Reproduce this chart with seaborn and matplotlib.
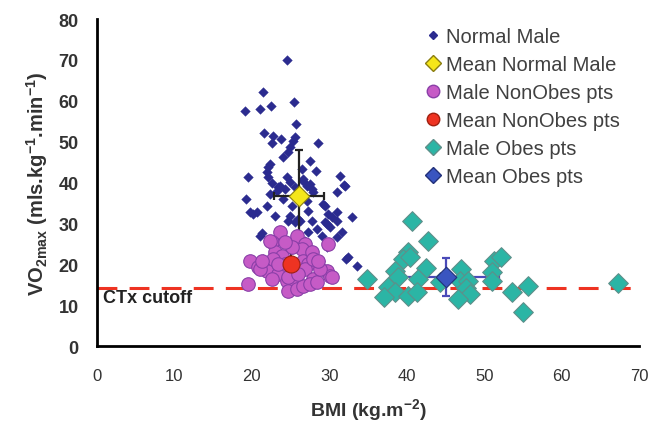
import matplotlib
matplotlib.use("Agg")
import matplotlib.pyplot as plt
from matplotlib.lines import Line2D
import pandas as pd
import seaborn as sns

# Normal male (BMI, VO2max)
normal_bmi = [
    24.5, 21.4, 25.5, 19.1, 21.1, 22.5, 25.7, 21.6, 22.7, 23.8, 25.6, 25.3, 22.6,
    28.6, 24.9, 24.7, 24.0, 27.5, 22.4, 22.1, 22.0, 19.5, 24.5, 26.6, 31.4, 31.9,
    31.0, 22.6, 23.6, 24.3, 27.1, 27.8, 27.9, 26.5, 22.1, 23.4, 22.0, 20.2, 23.0,
    21.3, 24.9, 24.7, 24.9, 26.6, 27.5, 25.6, 32.0, 25.2, 27.1, 29.5, 27.3, 29.8,
    30.4, 27.8, 29.5, 31.0, 30.1, 32.9, 26.0, 23.3, 20.7, 19.8, 29.2, 29.7, 31.0,
    25.6, 26.2, 21.1, 27.3, 28.4, 29.1, 31.0, 29.7, 32.4, 33.6, 31.7, 32.2, 25.2,
    24.0, 26.2, 28.3, 22.4, 26.9, 24.3, 19.3, 23.0, 27.5, 21.4, 28.8,
]
normal_vo2 = [
    69.9, 62.1, 59.7, 57.5, 57.9, 58.7, 54.3, 52.1, 51.3, 50.6, 51.1, 50.1, 49.6,
    49.6, 48.7, 47.4, 46.2, 45.2, 44.5, 43.8, 42.5, 41.3, 41.3, 40.8, 41.6, 39.4,
    37.7, 39.9, 39.1, 38.4, 39.1, 38.4, 37.7, 43.3, 41.3, 38.9, 34.2, 32.3, 31.8,
    27.6, 31.8, 30.6, 40.1, 40.3, 39.6, 38.9, 39.1, 34.2, 35.5, 34.2, 33.0, 32.3,
    31.5, 30.6, 30.3, 30.6, 29.1, 31.5, 31.1, 37.9, 32.8, 32.8, 34.7, 29.8, 32.8,
    30.3, 30.6, 26.9, 27.9, 28.6, 26.9, 26.7, 24.2, 21.8, 19.6, 27.9, 21.3, 23.7,
    35.9, 37.2, 42.8, 37.2, 25.7, 26.2, 35.9, 22.5, 23.7, 21.3, 20.8,
]

# Male non-obese patients
nonobes_bmi = [
    23.6, 25.8, 22.6, 26.9, 29.8, 26.5, 19.8, 23.0, 23.9, 22.7, 20.8, 22.0, 23.4,
    26.6, 27.3, 26.9, 29.7, 30.1, 27.9, 24.5, 25.6, 24.7, 25.8, 26.6, 27.5, 28.4,
    19.5, 24.7, 22.6, 25.2, 27.8, 24.3, 22.4, 27.9, 30.4, 21.1, 28.8, 21.3, 24.3,
    26.0, 28.6, 23.4,
]
nonobes_vo2 = [
    27.9, 26.9, 25.4, 24.9, 24.9, 23.7, 20.8, 23.0, 22.0, 21.3, 19.3, 18.3, 17.6,
    20.8, 20.0, 18.8, 18.3, 17.1, 16.4, 15.9, 15.2, 13.4, 13.9, 14.7, 15.2, 15.6,
    15.2, 16.9, 16.4, 24.2, 23.0, 25.4, 25.7, 21.3, 16.9, 18.8, 18.8, 20.8, 20.0,
    17.6, 20.8, 20.0,
]

# Male obese patients
obes_bmi = [
    40.7, 42.8, 40.2, 39.5, 40.4, 38.5, 38.9, 42.5, 41.5, 34.8, 37.6, 38.5, 37.0,
    40.1, 41.3, 44.3, 47.0, 46.9, 47.9, 47.7, 48.2, 46.6, 51.2, 52.2, 51.0, 51.0,
    53.6, 55.7, 55.0, 67.2,
]
obes_vo2 = [
    30.6, 25.7, 23.0, 21.3, 21.8, 18.3, 16.9, 19.1, 16.4, 16.4, 14.4, 13.2, 12.0,
    12.2, 13.2, 15.6, 18.8, 15.9, 15.9, 14.2, 12.7, 11.5, 20.8, 21.8, 18.1, 15.9,
    13.2, 14.7, 8.3, 15.4,
]

# Group means with SD (BMI, VO2, BMI sd, VO2 sd)
mean_normal = [26.1, 36.7, 3.2, 11.2]
mean_nonobes = [25.1, 20.0, 2.8, 3.2]
mean_obes = [45.1, 16.9, 6.8, 4.6]

cutoff = 14.2

sns.set_style("white")
plt.rcParams["font.family"] = ["Liberation Sans", "DejaVu Sans"]
plt.rcParams["mathtext.default"] = "regular"

text_col = "#333333"
navy = "#2b2b8f"
magenta = "#c65bc6"
teal = "#2bb5a5"


def main():
    normal = pd.DataFrame({"bmi": normal_bmi, "vo2": normal_vo2})
    nonobes = pd.DataFrame({"bmi": nonobes_bmi, "vo2": nonobes_vo2})
    obes = pd.DataFrame({"bmi": obes_bmi, "vo2": obes_vo2})

    fig = plt.figure(figsize=(6.59, 4.27), dpi=100)
    ax = fig.add_axes([0.147, 0.187, 0.823, 0.766])

    # CTx cutoff line
    ax.axhline(cutoff, color="#ee3322", lw=2.2, ls=(0, (6.5, 4)), zorder=1)
    ax.text(0.8, 11.9, "CTx cutoff", fontsize=13, fontweight="bold",
            color="#222222", va="center", ha="left")

    sns.scatterplot(data=normal, x="bmi", y="vo2", marker="D", s=24,
                    color=navy, edgecolor=navy, linewidth=0.3, ax=ax, zorder=2)

    # error bars sit under the markers
    for m, col in [(mean_normal, "#222222"), (mean_nonobes, "#222222"),
                   (mean_obes, "#4a4ab8")]:
        ax.errorbar(m[0], m[1], xerr=m[2], yerr=m[3], fmt="none", ecolor=col,
                    elinewidth=1.6, capsize=3, capthick=1.6, zorder=2.5)

    sns.scatterplot(data=nonobes, x="bmi", y="vo2", marker="o", s=95,
                    color=magenta, edgecolor="#8a3fa8", linewidth=0.8, ax=ax,
                    zorder=3)
    sns.scatterplot(data=obes, x="bmi", y="vo2", marker="D", s=100,
                    color=teal, edgecolor="#5f8f8a", linewidth=0.8, ax=ax,
                    zorder=3)

    ax.scatter(mean_normal[0], mean_normal[1], marker="D", s=110,
               color="#f5e61a", edgecolor="#8a7d10", linewidth=0.8, zorder=4)
    ax.scatter(mean_nonobes[0], mean_nonobes[1], marker="o", s=150,
               color="#ee3322", edgecolor="#a02010", linewidth=0.8, zorder=4)
    ax.scatter(mean_obes[0], mean_obes[1], marker="D", s=110,
               color="#3a55c0", edgecolor="#22307a", linewidth=0.8, zorder=4)

    ax.set_xlim(0, 70)
    ax.set_ylim(0, 80)
    ax.set_xticks(range(0, 71, 10))
    ax.set_yticks(range(0, 81, 10))

    sns.despine(ax=ax)
    for side in ["left", "bottom"]:
        ax.spines[side].set_linewidth(2)
        ax.spines[side].set_color("black")

    ax.tick_params(axis="y", direction="out", length=5, width=1.6,
                   labelsize=13, labelcolor=text_col, pad=8)
    ax.tick_params(axis="x", direction="inout", length=8, width=1.6,
                   labelsize=12, labelcolor=text_col, pad=12)
    for lab in ax.get_yticklabels():
        lab.set_fontweight("bold")

    ax.set_xlabel("BMI (kg.m$^{-2}$)", fontsize=14, fontweight="bold",
                  color=text_col, labelpad=9)
    ax.set_ylabel("VO$_{2max}$ (mls.kg$^{-1}$.min$^{-1}$)", fontsize=14.5,
                  fontweight="bold", color=text_col, labelpad=6)

    handles = [
        Line2D([], [], ls="none", marker="D", ms=4.5, color=navy),
        Line2D([], [], ls="none", marker="D", ms=8, mfc="#f5e61a", mec="#8a7d10"),
        Line2D([], [], ls="none", marker="o", ms=9, mfc=magenta, mec="#8a3fa8"),
        Line2D([], [], ls="none", marker="o", ms=9, mfc="#ee3322", mec="#a02010"),
        Line2D([], [], ls="none", marker="D", ms=8, mfc=teal, mec="#5f8f8a"),
        Line2D([], [], ls="none", marker="D", ms=8, mfc="#3a55c0", mec="#22307a"),
    ]
    labels = ["Normal Male", "Mean Normal Male", "Male NonObes pts",
              "Mean NonObes pts", "Male Obes pts", "Mean Obes pts"]
    leg = fig.legend(handles, labels, loc="upper left",
                     bbox_to_anchor=(0.634, 0.953), frameon=False,
                     fontsize=14.5, handlelength=0.7, handletextpad=0.3,
                     labelspacing=0.45, borderaxespad=0)
    for t in leg.get_texts():
        t.set_color("#404040")

    fig.savefig("out.png", dpi=100)


if __name__ == "__main__":
    main()
